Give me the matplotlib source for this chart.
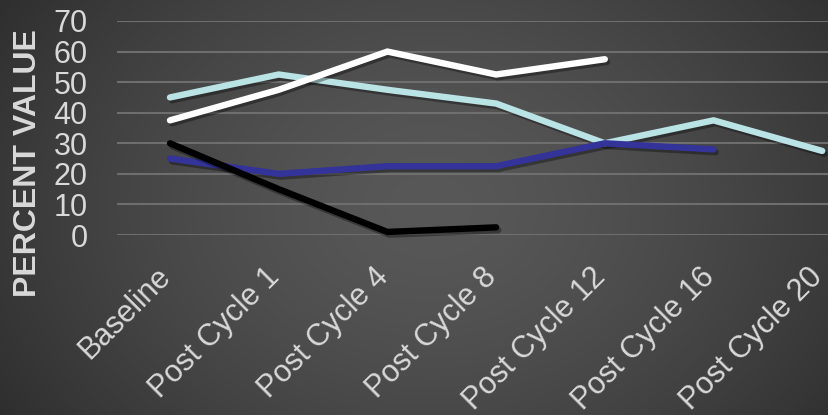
import numpy as np
import matplotlib
matplotlib.use("Agg")
import matplotlib.pyplot as plt
import matplotlib.patheffects as pe
from matplotlib.transforms import ScaledTranslation

categories = ["Baseline", "Post Cycle 1", "Post Cycle 4", "Post Cycle 8",
              "Post Cycle 12", "Post Cycle 16", "Post Cycle 20"]
series_cyan = [45, 52.5, 47.5, 43, 30, 37.5, 27.5]
series_white = [37.5, 47.5, 60, 52.5, 57.5, np.nan, np.nan]
series_blue = [25, 20, 22.5, 22.5, 30, 28, np.nan]
series_black = [30, 15, 1, 2.5, np.nan, np.nan, np.nan]
yticks = [0, 10, 20, 30, 40, 50, 60, 70]

plt.rcParams['font.family'] = ['Liberation Sans', 'DejaVu Sans']

W, H = 829, 415
fig = plt.figure(figsize=(W / 100, H / 100), dpi=100)

# background radial gradient
bg = fig.add_axes([0, 0, 1, 1], zorder=-10)
yy, xx = np.mgrid[0:1:200j, 0:1:400j]
d = np.sqrt(((xx - 0.52) / 0.62) ** 2 + ((yy - 0.5) / 0.95) ** 2)
d = np.clip(d, 0, 1)
val = (0x58 - (0x58 - 0x2e) * d ** 1.5) / 255.0
img = np.dstack([val, val, val])
bg.imshow(img, aspect='auto', extent=[0, 1, 0, 1], interpolation='bilinear')
bg.set_axis_off()

left = 117 / W
bottom = (H - 235) / H
top = (H - 21) / H
ax = fig.add_axes([left, bottom, 1 - left, top - bottom])
ax.set_facecolor('none')

x = np.arange(len(categories))
spacing = 108.7
x0 = -53 / spacing
ax.set_xlim(x0, x0 + (W - 117) / spacing)
ax.set_ylim(0, 70)

for s in ax.spines.values():
    s.set_visible(False)

ax.set_yticks(yticks)
ax.yaxis.grid(True, color='#6e6e6e', linewidth=1.5)
ax.set_axisbelow(True)
ax.tick_params(axis='both', length=0, colors='#d9d9d9')
ax.tick_params(axis='y', labelsize=22, pad=21)
ax.set_xticks(x)
ax.set_xticklabels(categories, rotation=45, ha='right', va='baseline',
                   rotation_mode='anchor', fontsize=22, color='#d9d9d9')
ax.tick_params(axis='x', pad=31)
for lab in ax.get_xticklabels():
    lab.set_transform(lab.get_transform() + ScaledTranslation(0.02, 0, fig.dpi_scale_trans))

effects = [pe.SimpleLineShadow(offset=(1.5, -2), shadow_color='black', alpha=0.35),
           pe.Normal()]
for ys, c in [(series_cyan, '#bae3e6'), (series_white, '#ffffff'),
              (series_blue, '#333399'), (series_black, '#000000')]:
    ax.plot(x, ys, color=c, linewidth=4.6, solid_capstyle='round',
            solid_joinstyle='miter', path_effects=effects, clip_on=False)

fig.text(28 / W, (H - 163) / H, "PERCENT VALUE", rotation=90, ha='center', va='center',
         fontsize=23, fontweight='bold', color='#d9d9d9')

fig.savefig("out.png", dpi=100)
